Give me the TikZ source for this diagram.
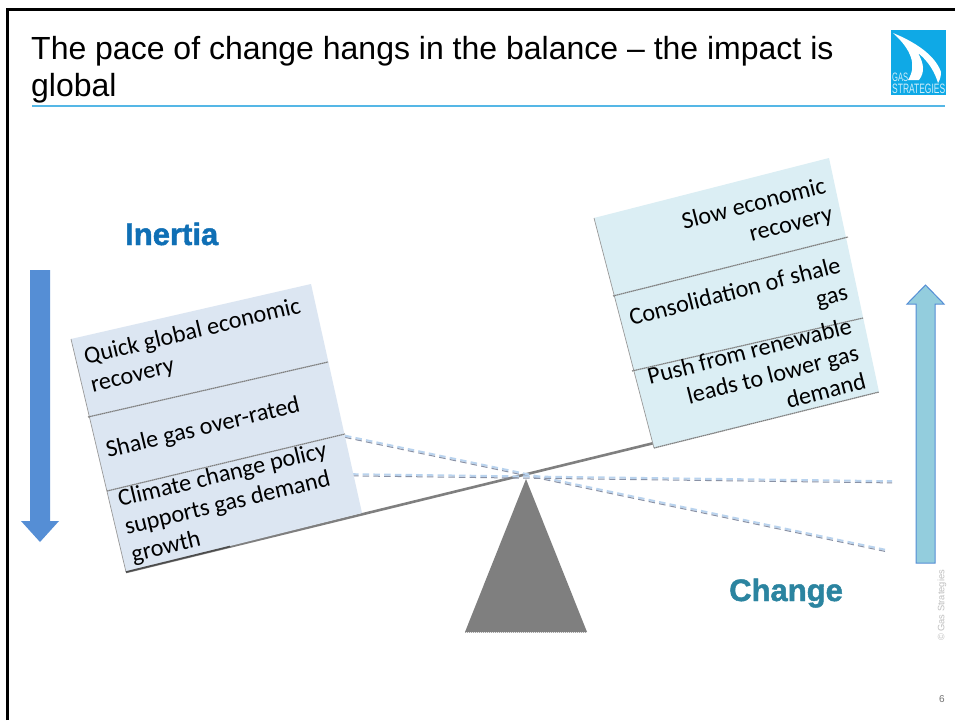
\documentclass[tikz,border=0pt]{standalone}
\usepackage{fontspec}
\usetikzlibrary{calc}
\setmainfont{Liberation Sans}
\newfontfamily\bodyfont{Carlito}
\newfontfamily\headfont[BoldFeatures={FakeBold=1.5}]{Liberation Sans}
\definecolor{leftfill}{HTML}{DCE6F2}
\definecolor{rightfill}{HTML}{DBEEF4}
\definecolor{beamc}{HTML}{7F7F7F}
\definecolor{tiltb}{HTML}{B9D3EE}
\definecolor{tiltd}{HTML}{8A92A6}
\definecolor{titleline}{HTML}{55B7E6}
\definecolor{logoc}{HTML}{0FA9E6}
\definecolor{inertiac}{HTML}{0F6FB5}
\definecolor{changec}{HTML}{2B84A0}
\definecolor{arrowl}{HTML}{558ED5}
\definecolor{arrowr}{HTML}{93CDDD}
\tikzset{
 x=1pt,y=-1pt,
 leftbox/.style={fill=leftfill,draw=none},
 rightbox/.style={fill=rightfill,draw=none},
 divider/.style={draw=black!50,line width=1.2pt,dash pattern=on 1.5pt off 0.5pt},
 sideedge/.style={draw=black!40,line width=0.7pt},
 cellleft/.style={font=\bodyfont\fontsize{24.2}{28.5}\selectfont,text=black,align=left,rotate=13.5,inner sep=0pt,anchor=north west},
 cellright/.style={font=\bodyfont\fontsize{24.2}{28.5}\selectfont,text=black,align=right,rotate=14.3,inner sep=0pt,anchor=north east},
 tiltblue/.style={line width=2pt,dash pattern=on 6.5pt off 4.2pt,draw=tiltb},
 tiltdark/.style={line width=1pt,dash pattern=on 6.5pt off 4.2pt,draw=tiltd},
 heading/.style={font=\headfont\bfseries\fontsize{31}{34}\selectfont,inner sep=0pt,anchor=base west},
}
\begin{document}
\begin{tikzpicture}
\useasboundingbox (0,0) rectangle (955,720);
\fill[white] (0,0) rectangle (955,720);
% frame
\draw[line width=3pt,black] (7,720) -- (7,9) -- (955,9);
% title
\node[anchor=north west,inner sep=0pt,align=left,font=\fontsize{32}{37.5}\selectfont] (title) at (31,36) {The pace of change hangs in the balance -- the impact is\\global};
\coordinate (ruleA) at (32,106);
\coordinate (ruleB) at (945,106);
\draw[draw=titleline,line width=2pt] (ruleA) -- (ruleB);
% logo
\fill[logoc] (891,30) rectangle (946,95);
\fill[white] (893,33) .. controls (915,42) and (935,55) .. (941,72) .. controls (941,76) and (940,80) .. (938,83) .. controls (933,66) and (923,57) .. (918,53) .. controls (924,64) and (925,72) .. (919,80) -- (908,80) .. controls (917,66) and (912,50) .. (893,33) -- cycle;
\node[inner sep=0pt,anchor=base west,text=white!80!logoc] (logoa) at (892,81.5) {\resizebox{16pt}{8.5pt}{GAS}};
\node[inner sep=0pt,anchor=base west,text=white!80!logoc] (logob) at (892,93.5) {\resizebox{53pt}{9.5pt}{STRATEGIES}};
% beam
\coordinate (beamL) at (126,572);
\coordinate (beamR) at (654,443);
\draw[beamc,line width=2.6pt] (beamL) -- (beamR);
% dashed tilt lines
\coordinate (t1a) at (345,436.5); \coordinate (t1b) at (885,550.5);
\coordinate (t2a) at (352,475); \coordinate (t2b) at (892,482);
\foreach \a/\b in {t1a/t1b,t2a/t2b}{
 \draw[tiltblue] ($(\a)+(0,-0.8)$) -- ($(\b)+(0,-0.8)$);
 \draw[tiltdark] ($(\a)+(0,0.9)$) -- ($(\b)+(0,0.9)$);
}
% left pan
\fill[leftbox] (71,339) -- (311,284) -- (362,513) -- (126,572) -- cycle;
\draw[sideedge] (71,339) -- (126,572);
\draw[divider] (88,417) -- (328,362);
\draw[divider] (107,491) -- (345,434);
\draw[black!70,line width=1.6pt] (126,572) -- (230,546.5);
\node[cellleft] (q) at (82,348) {Quick global economic\\recovery};
\node[cellleft] (s) at (104,441.5) {Shale gas over-rated};
\node[cellleft] (c) at (116,490.5) {Climate change policy\\supports gas demand\\growth};
% right pan
\fill[rightbox] (594,218) -- (829,158) -- (879,392) -- (654,448) -- cycle;
\draw[sideedge] (594,218) -- (654,448);
\draw[divider] (613,296) -- (848,237);
\draw[divider] (632,371) -- (863,318);
\draw[divider] (654,448) -- (879,392);
\node[cellright] (r1) at (823,176.5) {Slow economic\\recovery};
\node[cellright] (r2) at (838,255.5) {Consolidation of shale\\gas};
\node[cellright] (r3) at (849,316.5) {Push from renewable\\leads to lower gas\\demand};
% fulcrum
\fill[beamc] (526,479) -- (587,632) -- (465,632) -- cycle;
\draw[black!35,line width=1pt,densely dotted] (465,632.5) -- (587,632.5);
% arrows
\fill[arrowl] (30,270) -- (50,270) -- (50,521) -- (59,521) -- (40,542) -- (21,521) -- (30,521) -- cycle;
\draw[fill=arrowr,draw=arrowl,line width=1pt] (916,563) -- (916,304) -- (907,304) -- (925.5,285) -- (944,304) -- (935,304) -- (935,563) -- cycle;
% headings
\node[heading,text=inertiac] (inertia) at (125,245) {Inertia};
\node[heading,text=changec] (change) at (729,601) {Change};
% footer
\node[rotate=90,anchor=center,inner sep=0pt,text=black!25,font=\fontsize{9.3}{10}\selectfont] (copy) at (942,605.5) {© Gas Strategies};
\node[inner sep=0pt,text=black!55,font=\fontsize{10}{12}\selectfont] (page) at (942,699) {6};
\end{tikzpicture}
\end{document}
